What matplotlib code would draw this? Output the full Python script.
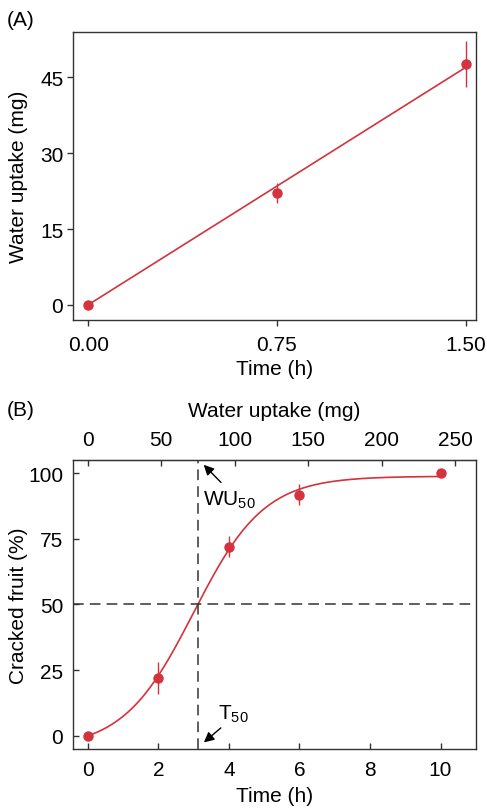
import numpy as np
import matplotlib
matplotlib.use('Agg')
from matplotlib import pyplot

pyplot.rcParams['font.family'] = ['Liberation Sans', 'DejaVu Sans']
pyplot.rcParams['font.size'] = 15
pyplot.rcParams['mathtext.fontset'] = 'custom'
pyplot.rcParams['mathtext.rm'] = 'Liberation Sans'

RED = '#d4323c'
DARK = '#333333'

# panel A: water uptake vs time
time_a = [0.0, 0.75, 1.5]
uptake_a = [0.0, 22.1, 47.7]
uptake_a_err = [0.0, 2.0, 4.5]

# panel B: cracked fruit vs time
time_b = [0, 2, 4, 6, 10]
cracked_b = [0.0, 22.1, 72.0, 91.7, 100.0]
cracked_b_err = [0.0, 6.0, 4.0, 4.0, 0.0]
mg_per_hour = 24.0
t50 = 3.12
# fitted sigmoid parameters (logistic, anchored at 0 for t=0)
fit_top, fit_k, fit_mid = 98.8, 1.0, 3.0


def logistic(t):
    return 1 / (1 + np.exp(-fit_k * (t - fit_mid)))


def style_axes(ax, direction):
    for sp in ax.spines.values():
        sp.set_color(DARK)
        sp.set_linewidth(1.0)
    ax.tick_params(direction=direction, length=4, width=1.0, color=DARK)


fig = pyplot.figure(figsize=(4.87, 8.12), dpi=100)

# ---- panel A
ax1 = fig.add_axes([0.150, 0.6047, 0.827, 0.3547])
style_axes(ax1, 'out')
slope = np.sum(np.array(time_a) * np.array(uptake_a)) / np.sum(np.array(time_a) ** 2)
tt = np.linspace(0, 1.5, 50)
ax1.plot(tt, slope * tt, color=RED, lw=1.2)
ax1.errorbar(time_a, uptake_a, yerr=uptake_a_err, fmt='o', color=RED, ms=6.5,
             elinewidth=1.0, capsize=0)
ax1.set_xlim(-0.06, 1.54)
ax1.set_ylim(-3, 54)
ax1.set_xticks([0, 0.75, 1.5])
ax1.set_xticklabels(['0.00', '0.75', '1.50'])
ax1.set_yticks([0, 15, 30, 45])
ax1.tick_params(axis='x', pad=7)
ax1.tick_params(axis='y', pad=3)
ax1.set_xlabel('Time (h)')
ax1.set_ylabel('Water uptake (mg)')
ax1.xaxis.set_label_coords(0.5, -0.135)
ax1.yaxis.set_label_coords(-0.111, 0.5)
fig.text(0.014, 0.975, '(A)', va='center', ha='left')

# ---- panel B
ax2 = fig.add_axes([0.150, 0.0764, 0.827, 0.3559])
style_axes(ax2, 'in')
tc = np.linspace(0, 10, 300)
l0 = logistic(0)
ax2.plot(tc, fit_top * (logistic(tc) - l0) / (1 - l0), color=RED, lw=1.2)
ax2.errorbar(time_b, cracked_b, yerr=cracked_b_err, fmt='o', color=RED, ms=6.5,
             elinewidth=1.0, capsize=0, zorder=3)
ax2.axhline(50, color=DARK, lw=1.1, ls=(0, (7, 4)))
ax2.axvline(t50, color=DARK, lw=1.1, ls=(0, (7, 4)))
ax2.set_xlim(-0.42, 11)
ax2.set_ylim(-5, 105)
ax2.set_xticks([0, 2, 4, 6, 8, 10])
ax2.set_yticks([0, 25, 50, 75, 100])
ax2.tick_params(axis='x', pad=8)
ax2.tick_params(axis='y', pad=7)
ax2.set_xlabel('Time (h)')
ax2.set_ylabel('Cracked fruit (%)')
ax2.xaxis.set_label_coords(0.5, -0.129)
ax2.yaxis.set_label_coords(-0.111, 0.5)

top = ax2.secondary_xaxis('top', functions=(lambda t: t * mg_per_hour, lambda m: m / mg_per_hour))
top.set_xticks([0, 50, 100, 150, 200, 250])
top.tick_params(direction='in', length=4, width=1.0, color=DARK, pad=8)
fig.text(0.5637, 0.4868, 'Water uptake (mg)', ha='center', va='baseline')

ax2.annotate('', xy=(3.23, 103.9), xytext=(3.83, 95.7),
             arrowprops=dict(arrowstyle='-|>', color='black', lw=1.0, mutation_scale=15))
ax2.text(3.27, 90.2, 'WU$_{50}$', va='center', ha='left')
ax2.annotate('', xy=(3.23, -3.2), xytext=(3.83, 3.7),
             arrowprops=dict(arrowstyle='-|>', color='black', lw=1.0, mutation_scale=15))
ax2.text(3.69, 8.7, 'T$_{50}$', va='center', ha='left')
fig.text(0.014, 0.494, '(B)', va='center', ha='left')

fig.savefig('out.png', dpi=100)
